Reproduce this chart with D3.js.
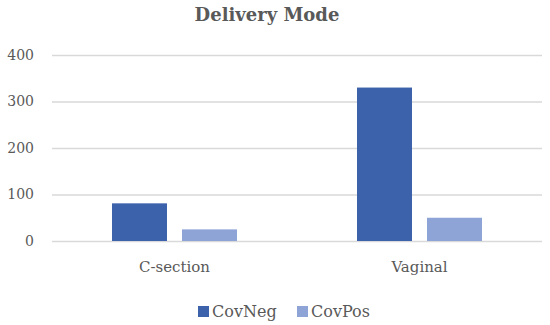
<!DOCTYPE html>
<html><head><meta charset="utf-8">
<script src="https://cdn.jsdelivr.net/npm/d3@7"></script>
<style>body{margin:0;background:#fff}svg{display:block}text{font-family:"DejaVu Serif",serif}</style>
</head><body><svg id="c" width="550" height="325"></svg>
<script>
const categories = ["C-section", "Vaginal"];
const seriesNames = ["CovNeg", "CovPos"];
const covNeg = [81, 330];
const covPos = [25, 50];
const yTicks = [0, 100, 200, 300, 400];
const colors = ["#3C62AC", "#8EA3D6"];

const svg = d3.select("#c");
const m = {l: 52, r: 8};
const W = 550;
const x = d3.scaleBand().domain(categories).range([m.l, W - m.r]).paddingInner(0).paddingOuter(0);
const y = d3.scaleLinear().domain([0, 400]).range([241, 55]);
const xs = d3.scaleBand().domain(seriesNames).range([0, x.bandwidth()]).paddingInner(0.2143).paddingOuter(0.857);

svg.append("text").attr("x", 267).attr("y", 21).attr("text-anchor", "middle")
  .attr("font-size", 18).attr("font-weight", "bold").attr("fill", "#595959").text("Delivery Mode");

const yAxis = d3.axisLeft(y).tickValues(yTicks).tickSize(-(W - m.r - m.l)).tickPadding(18);
const ga = svg.append("g").attr("transform", `translate(${m.l},0)`).call(yAxis);
ga.select(".domain").remove();
ga.selectAll(".tick line").attr("stroke", "#D9D9D9").attr("stroke-width", 1.3);
ga.selectAll(".tick text").attr("font-size", 14).attr("fill", "#595959").attr("font-family", "DejaVu Serif");

const data = categories.map((c, i) => ({c, vals: [covNeg[i], covPos[i]]}));
const g = svg.append("g");
data.forEach(d => {
  d.vals.forEach((v, j) => {
    g.append("rect")
      .attr("x", x(d.c) + xs(seriesNames[j]))
      .attr("width", xs.bandwidth())
      .attr("y", y(v))
      .attr("height", y(0) - y(v))
      .attr("fill", colors[j]);
  });
});

const xAxis = d3.axisBottom(x).tickSize(0).tickPadding(20);
const gx = svg.append("g").attr("transform", `translate(0,${y(0)})`).call(xAxis);
gx.select(".domain").remove();
gx.selectAll(".tick text").attr("font-size", 15).attr("fill", "#595959").attr("font-family", "DejaVu Serif");

const legend = svg.append("g");
const lx = [198, 297];
seriesNames.forEach((s, i) => {
  legend.append("rect").attr("x", lx[i]).attr("y", 306).attr("width", 11).attr("height", 11).attr("fill", colors[i]);
  legend.append("text").attr("x", lx[i] + 14).attr("y", 312).attr("dominant-baseline", "middle")
    .attr("font-size", 16).attr("fill", "#595959").text(s);
});
</script></body></html>
